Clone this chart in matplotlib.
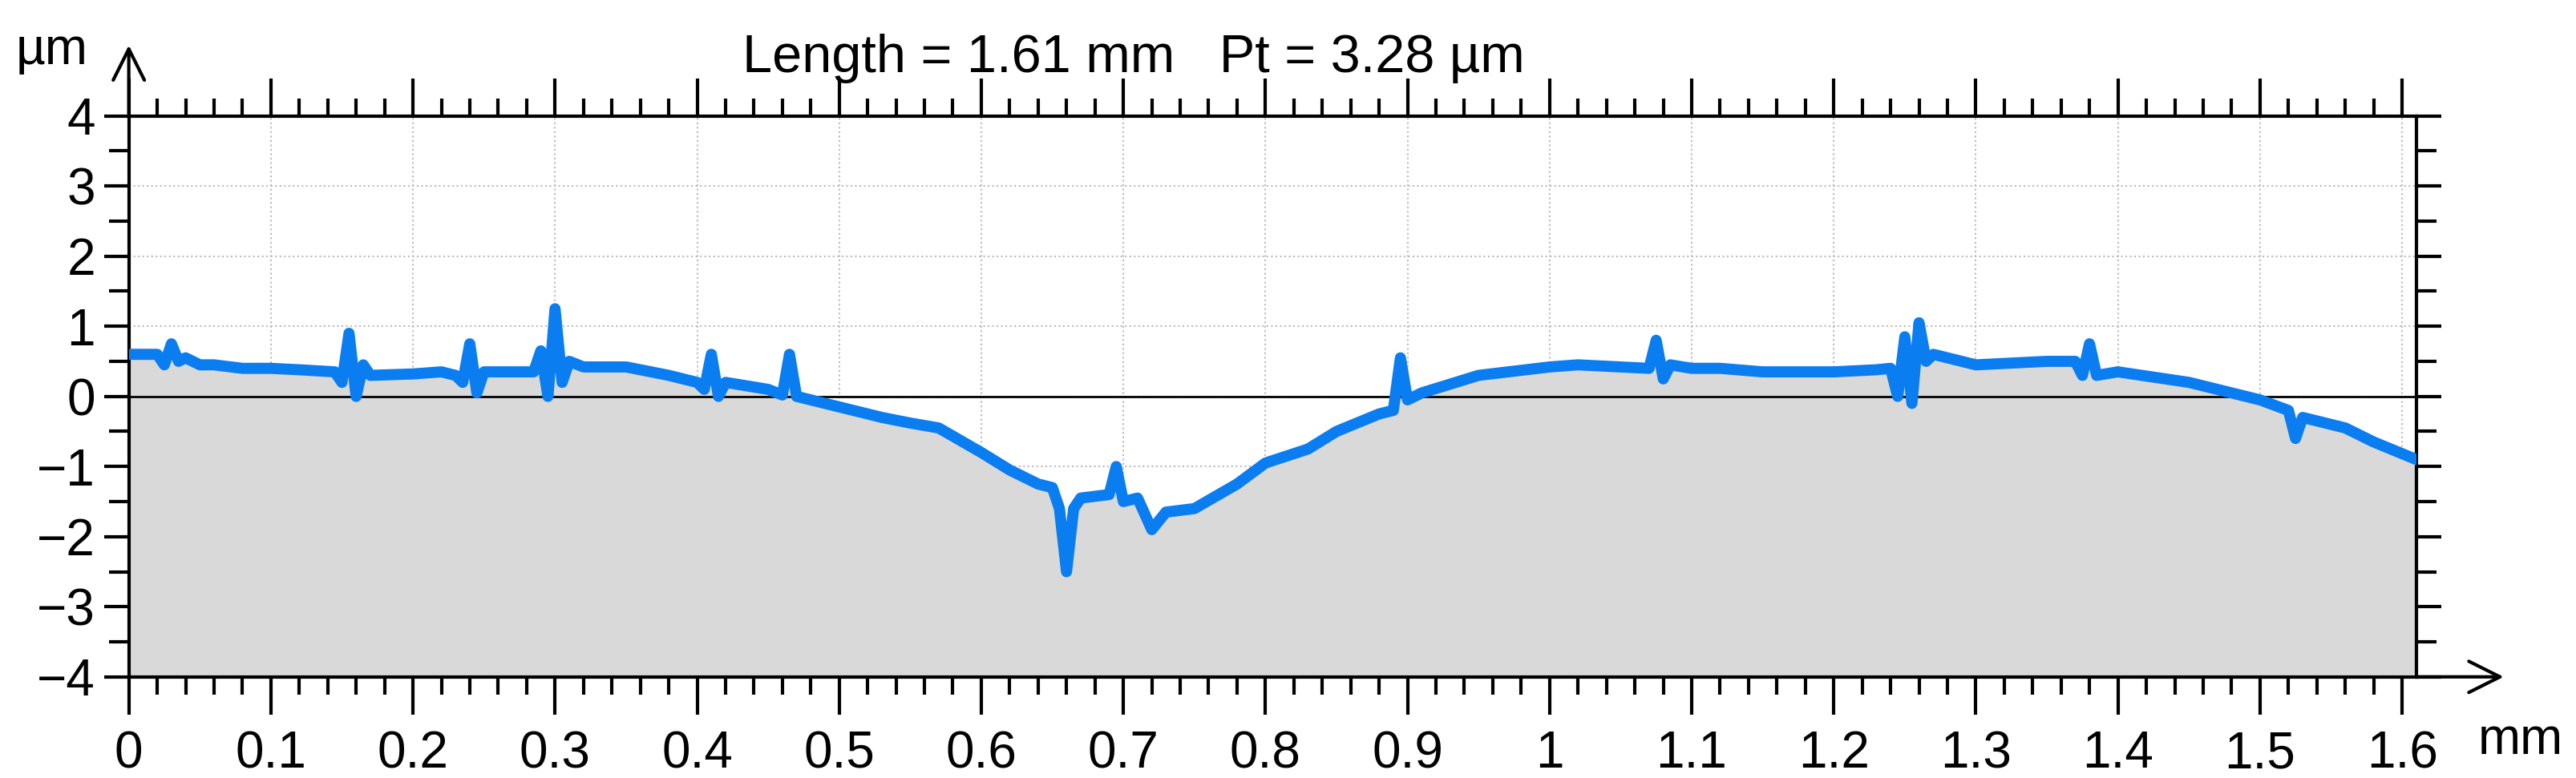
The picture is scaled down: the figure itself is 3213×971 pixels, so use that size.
import matplotlib
matplotlib.use("Agg")
import matplotlib.pyplot as plt
import numpy as np
from matplotlib.ticker import MultipleLocator

plt.rcParams['font.family'] = ['Liberation Sans', 'DejaVu Sans']

x_mm = [0.0, 0.02, 0.025, 0.03, 0.035, 0.04, 0.05, 0.06, 0.08, 0.1, 0.12, 0.145, 0.15, 0.155, 0.16, 0.165, 0.17,
        0.2, 0.22, 0.23, 0.235, 0.24, 0.245, 0.25, 0.27, 0.285, 0.29, 0.295, 0.3, 0.305, 0.31, 0.32, 0.35, 0.38,
        0.4, 0.405, 0.41, 0.415, 0.42, 0.45, 0.46, 0.465, 0.47, 0.5, 0.53, 0.55, 0.57, 0.6, 0.62, 0.64, 0.65,
        0.655, 0.66, 0.665, 0.67, 0.69, 0.695, 0.7, 0.71, 0.72, 0.73, 0.75, 0.78, 0.8, 0.83, 0.85, 0.88, 0.89,
        0.895, 0.9, 0.91, 0.95, 1.0, 1.02, 1.05, 1.07, 1.075, 1.08, 1.085, 1.1, 1.12, 1.15, 1.2, 1.23, 1.24,
        1.245, 1.25, 1.255, 1.26, 1.265, 1.27, 1.3, 1.35, 1.37, 1.375, 1.38, 1.385, 1.4, 1.45, 1.5, 1.52,
        1.525, 1.53, 1.56, 1.58, 1.61]
z_um = [0.6, 0.6, 0.45, 0.75, 0.5, 0.55, 0.45, 0.45, 0.4, 0.4, 0.38, 0.35, 0.2, 0.9, 0.0, 0.45, 0.3,
        0.32, 0.35, 0.3, 0.2, 0.75, 0.05, 0.35, 0.35, 0.35, 0.65, 0.0, 1.25, 0.2, 0.5, 0.42, 0.42, 0.3,
        0.2, 0.1, 0.6, 0.0, 0.2, 0.1, 0.02, 0.6, 0.0, -0.15, -0.3, -0.38, -0.45, -0.8, -1.05, -1.25, -1.3,
        -1.6, -2.5, -1.6, -1.45, -1.4, -1.0, -1.5, -1.45, -1.9, -1.65, -1.6, -1.25, -0.95, -0.75, -0.5, -0.25, -0.2,
        0.55, -0.05, 0.05, 0.3, 0.42, 0.45, 0.42, 0.4, 0.8, 0.25, 0.45, 0.4, 0.4, 0.35, 0.35, 0.38, 0.4,
        0.0, 0.85, -0.1, 1.05, 0.5, 0.6, 0.45, 0.5, 0.5, 0.3, 0.75, 0.3, 0.35, 0.2, -0.05, -0.2,
        -0.6, -0.3, -0.45, -0.65, -0.9]
x_ticks = [0, 0.1, 0.2, 0.3, 0.4, 0.5, 0.6, 0.7, 0.8, 0.9, 1.0, 1.1, 1.2, 1.3, 1.4, 1.5, 1.6]
x_labels = ['0', '0.1', '0.2', '0.3', '0.4', '0.5', '0.6', '0.7', '0.8', '0.9', '1',
            '1.1', '1.2', '1.3', '1.4', '1.5', '1.6']

fig = plt.figure(figsize=(32.13, 9.71), dpi=100)
ax = fig.add_axes([0.05, 0.13, 0.888, 0.721])
ax.set_xlim(0, 1.61)
ax.set_ylim(-4, 4)

ax.fill_between(x_mm, z_um, -4, color='#d9d9d9', zorder=1, linewidth=0)
ax.axhline(0, color='black', lw=2, zorder=2)
ax.plot(x_mm, z_um, color='#0a7df0', lw=10, zorder=3)

ax.set_xticks(x_ticks)
ax.set_xticklabels(x_labels)
ax.xaxis.set_minor_locator(MultipleLocator(0.02))
ax.yaxis.set_major_locator(MultipleLocator(1))
ax.yaxis.set_minor_locator(MultipleLocator(0.5))
ax.grid(True, which='major', color='#bbbbbb', ls=':', lw=1.5, zorder=0)
ax.set_axisbelow(True)

ax.tick_params(axis='x', which='both', top=True, direction='out', width=3, labelsize=46, pad=14)
ax.tick_params(axis='x', which='major', length=34)
ax.tick_params(axis='x', which='minor', length=16)
ax.tick_params(axis='y', which='both', right=True, direction='out', width=3, labelsize=46, pad=8)
ax.tick_params(axis='y', which='major', length=22)
ax.tick_params(axis='y', which='minor', length=18)
for s in ax.spines.values():
    s.set_linewidth(3)

ax.annotate('', xy=(1.0392, 0), xytext=(1.0, 0), xycoords='axes fraction',
            arrowprops=dict(arrowstyle='->', lw=3, mutation_scale=70), annotation_clip=False)
ax.annotate('', xy=(0, 1.13), xytext=(0, 1.0), xycoords='axes fraction',
            arrowprops=dict(arrowstyle='->', lw=3, mutation_scale=70), annotation_clip=False)
fig.text(0.038, 0.048, 'mm', fontsize=46, va='center', ha='left',
         transform=fig.transFigure)
fig.texts[-1].set_position((0.962, 0.048))
fig.text(0.006, 0.935, 'µm', fontsize=46, va='center', ha='left')
fig.text(0.44, 0.925, 'Length = 1.61 mm   Pt = 3.28 µm', fontsize=48, ha='center', va='center')

fig.savefig('out.png', dpi=100)
